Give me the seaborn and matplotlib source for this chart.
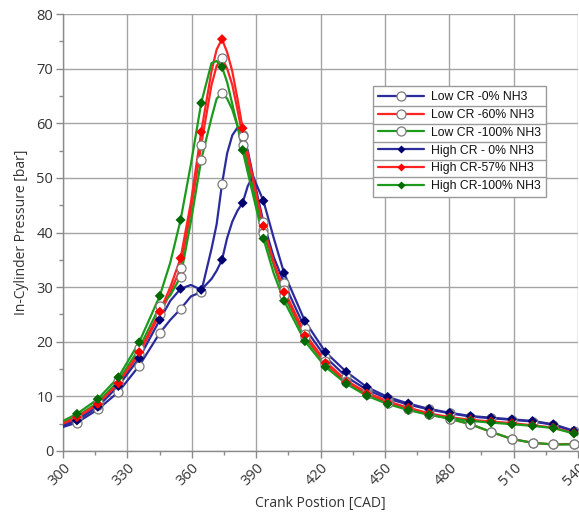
import numpy as np
import pandas as pd
import matplotlib
matplotlib.use("Agg")
import matplotlib.pyplot as plt
from matplotlib.lines import Line2D
from matplotlib.ticker import MultipleLocator
import seaborn as sns

# ---------------- data ----------------
SERIES = ["Low CR -0% NH3", "Low CR -60% NH3", "Low CR -100% NH3",
          "High CR - 0% NH3", "High CR-57% NH3", "High CR-100% NH3"]

# crank angles where markers are shown
MARKER_X = [306.5, 316.2, 325.8, 335.5, 345.1, 354.8, 364.4, 374.1, 383.7,
            393.4, 403.0, 412.7, 422.3, 432.0, 441.6, 451.3, 460.9, 470.6,
            480.2, 489.9, 499.5, 509.2, 518.8, 528.5, 538.1]

low_cr_0 = [5.2, 7.6, 10.8, 15.6, 21.6, 26.0, 29.1, 48.9, 57.8, 41.9, 30.8, 22.5,
            17.2, 13.6, 11.2, 9.6, 8.5, 7.6, 6.9, 6.3, 6.0, 5.7, 5.4, 4.8, 3.6]
low_cr_60 = [6.0, 8.4, 12.2, 17.8, 25.0, 33.5, 56.0, 71.9, 57.6, 40.5, 29.5, 21.5,
             16.4, 12.9, 10.7, 9.1, 7.9, 6.8, 5.9, 4.9, 3.5, 2.2, 1.5, 1.2, 1.3]
low_cr_100 = [6.3, 8.9, 12.8, 18.8, 26.5, 31.9, 53.3, 65.5, 56.0, 40.0, 28.5, 20.8,
              15.9, 12.6, 10.4, 8.8, 7.7, 6.7, 5.9, 4.9, 3.5, 2.2, 1.5, 1.2, 1.2]
high_cr_0 = [5.6, 8.1, 11.9, 17.0, 24.0, 29.7, 29.5, 35.0, 45.4, 45.8, 32.6, 23.8,
             18.1, 14.5, 11.7, 9.9, 8.7, 7.7, 7.0, 6.4, 6.1, 5.8, 5.5, 4.9, 3.7]
high_cr_57 = [6.2, 8.6, 12.4, 18.1, 25.5, 35.3, 58.4, 75.4, 59.1, 41.2, 29.1, 21.1,
              16.1, 12.6, 10.5, 8.9, 7.9, 6.9, 6.2, 5.7, 5.4, 5.1, 4.7, 4.3, 3.3]
high_cr_100 = [6.8, 9.5, 13.5, 19.9, 28.4, 42.3, 63.7, 70.3, 55.1, 38.9, 27.5, 20.1,
               15.4, 12.3, 10.1, 8.6, 7.5, 6.6, 6.0, 5.5, 5.2, 4.9, 4.6, 4.2, 3.2]

# additional curve points (line only, no marker)
EXTRA_X = [300.0, 350.0, 359.6, 369.2, 371.6, 376.5, 378.9, 381.3, 386.1, 388.5, 398.2, 540.0]

low_cr_0_extra = [4.4, 24.0, 28.3, 37.0, 41.5, 54.5, 57.8, 59.2, 55.0, 50.5, 35.5, 3.4]
low_cr_60_extra = [4.9, 29.0, 44.0, 67.0, 70.5, 70.0, 67.0, 62.5, 53.0, 49.0, 34.5, 1.3]
low_cr_100_extra = [5.2, 28.5, 42.0, 61.0, 64.5, 64.5, 62.5, 59.5, 52.0, 48.0, 34.0, 1.2]
high_cr_0_extra = [4.6, 27.5, 30.4, 31.5, 33.0, 39.0, 42.0, 44.0, 48.5, 50.3, 39.0, 3.4]
high_cr_57_extra = [5.1, 30.0, 45.5, 69.5, 73.5, 73.0, 69.5, 64.5, 54.5, 50.0, 34.5, 3.0]
high_cr_100_extra = [5.5, 34.5, 52.5, 71.0, 71.4, 67.5, 63.5, 59.5, 51.0, 47.0, 32.5, 2.9]

MARKER_VALUES = [low_cr_0, low_cr_60, low_cr_100, high_cr_0, high_cr_57, high_cr_100]
EXTRA_VALUES = [low_cr_0_extra, low_cr_60_extra, low_cr_100_extra,
                high_cr_0_extra, high_cr_57_extra, high_cr_100_extra]

X_TICKS = [300, 330, 360, 390, 420, 450, 480, 510, 540]
Y_TICKS = [0, 10, 20, 30, 40, 50, 60, 70, 80]

# ---------------- styles ----------------
LINE_COLORS = {
    SERIES[0]: "#2b2b9c", SERIES[1]: "#ff2424", SERIES[2]: "#1c9a1c",
    SERIES[3]: "#2b2b9c", SERIES[4]: "#ff2424", SERIES[5]: "#1c9a1c",
}
DIAMOND_COLORS = {SERIES[3]: "#00006e", SERIES[4]: "#ff0000", SERIES[5]: "#006a00"}

# ---------------- tables ----------------
line_rows = []
marker_rows = []
for name, mv, ev in zip(SERIES, MARKER_VALUES, EXTRA_VALUES):
    for x, y in zip(MARKER_X, mv):
        line_rows.append((name, x, y))
        marker_rows.append((name, x, y))
    for x, y in zip(EXTRA_X, ev):
        line_rows.append((name, x, y))
lines_df = pd.DataFrame(line_rows, columns=["series", "cad", "p"]).sort_values(["series", "cad"])
markers_df = pd.DataFrame(marker_rows, columns=["series", "cad", "p"])

# ---------------- figure ----------------
sns.set_theme(style="white")
plt.rcParams["font.family"] = ["Open Sans", "DejaVu Sans"]

fig = plt.figure(figsize=(5.79, 5.19), dpi=100)
ax = fig.add_axes([63 / 579, 1 - 451 / 519, (578 - 63) / 579, (451 - 14) / 519])

sns.lineplot(data=lines_df, x="cad", y="p", hue="series", hue_order=SERIES,
             palette=LINE_COLORS, estimator=None, sort=True, legend=False,
             linewidth=1.6, ax=ax, zorder=3)

low = markers_df[markers_df.series.isin(SERIES[:3])]
sns.scatterplot(data=low, x="cad", y="p", color="white", edgecolor="#7a7a7a",
                linewidth=0.9, s=42, marker="o", legend=False, ax=ax, zorder=4)
high = markers_df[markers_df.series.isin(SERIES[3:])]
sns.scatterplot(data=high, x="cad", y="p", hue="series", hue_order=SERIES[3:],
                palette=DIAMOND_COLORS, marker="D", s=26, edgecolor="none",
                legend=False, ax=ax, zorder=5)

ax.set_xlim(300, 540)
ax.set_ylim(0, 80)
ax.set_xticks(X_TICKS)
ax.set_yticks(Y_TICKS)
ax.xaxis.set_minor_locator(MultipleLocator(15))
ax.yaxis.set_minor_locator(MultipleLocator(5))
ax.grid(True, which="major", color="#a4a4a4", linewidth=1.0, zorder=0)
ax.set_axisbelow(True)
for side in ["top", "right"]:
    ax.spines[side].set_visible(False)
for side in ["left", "bottom"]:
    ax.spines[side].set_color("#8a8a8a")
    ax.spines[side].set_linewidth(1.0)
ax.tick_params(axis="both", which="major", direction="out", length=5, width=1,
               color="#8a8a8a", labelsize=10.5, labelcolor="#333333", pad=2)
ax.tick_params(axis="both", which="minor", direction="out", length=3, width=1,
               color="#8a8a8a")
ax.tick_params(axis="both", which="both", bottom=True, left=True)
for lab in ax.get_xticklabels():
    lab.set_rotation(45)
    lab.set_ha("right")
    lab.set_rotation_mode("anchor")
ax.set_xlabel("Crank Postion [CAD]", fontsize=10, color="#333333", labelpad=5)
ax.set_ylabel("In-Cylinder Pressure [bar]", fontsize=10, color="#333333", labelpad=5)

# legend
handles = []
for i, name in enumerate(SERIES):
    if i < 3:
        h = Line2D([], [], color=LINE_COLORS[name], linewidth=1.6, marker="o",
                   markersize=6.5, markerfacecolor="white", markeredgecolor="#7a7a7a",
                   markeredgewidth=0.9)
    else:
        h = Line2D([], [], color=LINE_COLORS[name], linewidth=1.6, marker="D",
                   markersize=4.5, markerfacecolor=DIAMOND_COLORS[name],
                   markeredgecolor="none")
    handles.append(h)
leg = ax.legend(handles, SERIES, loc="upper left", bbox_to_anchor=(0.602, 0.835),
                frameon=True, fancybox=False, edgecolor="#9a9a9a", framealpha=1,
                prop={"family": ["Liberation Sans", "DejaVu Sans"], "size": 8.8},
                handlelength=3.8, handletextpad=0.55, labelspacing=0.48,
                borderpad=0.4, borderaxespad=0, labelcolor="#111111")
leg.get_frame().set_linewidth(1.0)
leg.set_zorder(10)

# row separators inside the legend
fig.canvas.draw()
renderer = fig.canvas.get_renderer()
lb = leg.get_window_extent(renderer)
texts = leg.get_texts()
ys = [t.get_window_extent(renderer) for t in texts]
inv = fig.transFigure.inverted()
for a, b in zip(ys[:-1], ys[1:]):
    ymid = (a.y0 + b.y1) / 2
    p0 = inv.transform((lb.x0, ymid))
    p1 = inv.transform((lb.x1, ymid))
    fig.add_artist(Line2D([p0[0], p1[0]], [p0[1], p1[1]], color="#9a9a9a",
                          linewidth=1.0, zorder=11))

fig.savefig("out.png", dpi=100, facecolor="white")
